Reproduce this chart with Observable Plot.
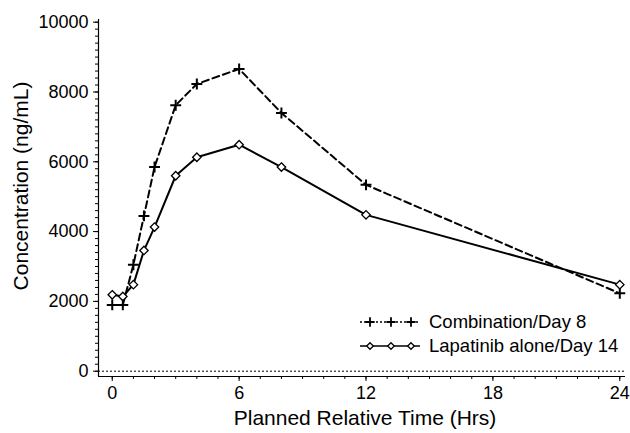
<!DOCTYPE html>
<html><head><meta charset="utf-8">
<script src="https://cdn.jsdelivr.net/npm/d3@7"></script>
<script src="https://cdn.jsdelivr.net/npm/@observablehq/plot@0.6"></script>
<style>
body{margin:0;background:#fff;}
#wrap{position:relative;width:630px;height:433px;font-family:"Liberation Sans",Arial,sans-serif;}
#legend{position:absolute;left:0;top:0;}
</style>
</head><body><div id="wrap"></div>
<script>
const times = [0, 0.5, 1, 1.5, 2, 3, 4, 6, 8, 12, 24];
const combination = [1900, 1900, 3050, 4450, 5850, 7620, 8230, 8660, 7400, 5340, 2230];
const lapatinib = [2190, 2140, 2480, 3460, 4130, 5600, 6130, 6490, 5850, 4480, 2480];
const seriesNames = ["Combination/Day 8", "Lapatinib alone/Day 14"];
const xTicks = [0, 6, 12, 18, 24];
const yTicks = [0, 2000, 4000, 6000, 8000, 10000];
const xTitle = "Planned Relative Time (Hrs)";
const yTitle = "Concentration (ng/mL)";

const xMinor = d3.range(0, 25, 1);
const yMinor = d3.range(0, 10001, 200);
const xDomain = [-0.65, 24.27];
const yDomain = [-152, 10077];

const comboData = times.map((t, i) => ({t, v: combination[i]}));
const lapData = times.map((t, i) => ({t, v: lapatinib[i]}));

const font = '"Liberation Sans",Arial,sans-serif';

const chart = Plot.plot({
  width: 630,
  height: 433,
  marginLeft: 98,
  marginRight: 5,
  marginTop: 19,
  marginBottom: 57,
  style: {fontFamily: font, background: "#fff", color: "#000"},
  x: {domain: xDomain},
  y: {domain: yDomain},
  marks: [
    Plot.ruleY([0], {stroke: "#000", strokeWidth: 1, strokeDasharray: "2,2"}),
    Plot.ruleX([xDomain[0]], {stroke: "#000", strokeWidth: 1.2}),
    Plot.ruleY([yDomain[0]], {stroke: "#000", strokeWidth: 1.2}),
    Plot.axisX(xMinor, {tickSize: 3, tickFormat: () => "", label: null}),
    Plot.axisX(xTicks, {tickSize: 5, tickPadding: 5, fontSize: 18, label: null, tickFormat: d => String(d)}),
    Plot.axisY(yMinor, {tickSize: 3, tickFormat: () => "", label: null}),
    Plot.axisY(yTicks, {tickSize: 5, tickPadding: 5, fontSize: 18, label: null, tickFormat: d => String(d)}),
    Plot.line(lapData, {x: "t", y: "v", stroke: "#000", strokeWidth: 2}),
    Plot.line(comboData, {x: "t", y: "v", stroke: "#000", strokeWidth: 2, strokeDasharray: "7,4"}),
    Plot.dot(lapData, {x: "t", y: "v", symbol: "diamond2", r: 3.8, stroke: "#000", fill: "#fff", strokeWidth: 1.3}),
    Plot.dot(comboData, {x: "t", y: "v", symbol: "plus", r: 3.6, stroke: "#000", strokeWidth: 2}),
    Plot.text([xTitle], {frameAnchor: "bottom", lineAnchor: "middle", textAnchor: "middle", dy: 42, dx: 3, fontSize: 21, fill: "#000"}),
    Plot.text([yTitle], {frameAnchor: "left", lineAnchor: "middle", textAnchor: "middle", dx: -77, dy: -12, rotate: -90, fontSize: 21, fill: "#000"})
  ]
});
document.getElementById("wrap").appendChild(chart);

// legend overlay
const leg = d3.select("#wrap").append("svg").attr("id", "legend")
  .attr("width", 630).attr("height", 433);
const rows = [
  {name: seriesNames[0], y: 322, dash: "2,2", sym: d3.symbolPlus, size: 30, fill: "none", sw: 1.8},
  {name: seriesNames[1], y: 346, dash: null, sym: d3.symbolDiamond2, size: 28, fill: "#fff", sw: 1.3}
];
rows.forEach(r => {
  const g = leg.append("g");
  g.append("line").attr("x1", 360).attr("x2", 420).attr("y1", r.y).attr("y2", r.y)
    .attr("stroke", "#000").attr("stroke-width", 1.6).attr("stroke-dasharray", r.dash);
  [370, 391, 411].forEach(x => {
    g.append("path").attr("d", d3.symbol(r.sym, r.size)())
      .attr("transform", `translate(${x},${r.y})`)
      .attr("fill", r.fill).attr("stroke", "#000").attr("stroke-width", r.sw);
  });
  g.append("text").attr("x", 429).attr("y", r.y).attr("dy", "0.35em")
    .attr("font-family", font).attr("font-size", 18.5).attr("fill", "#000").text(r.name);
});
</script>
</body></html>
